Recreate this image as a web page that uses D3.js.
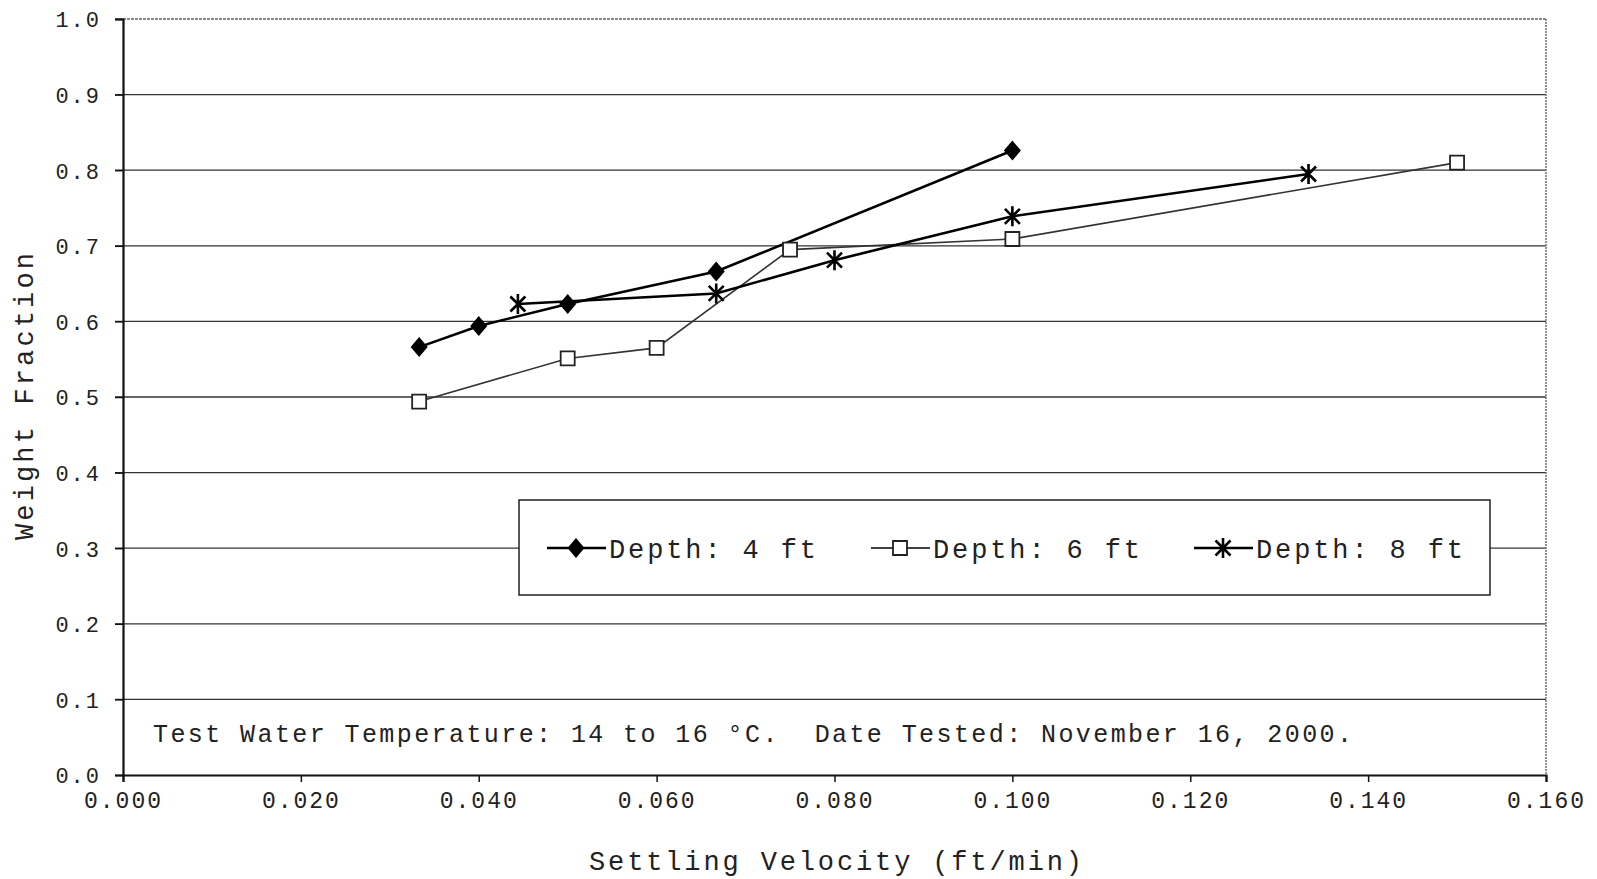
<!DOCTYPE html>
<html>
<head>
<meta charset="utf-8">
<script src="https://cdn.jsdelivr.net/npm/d3@7"></script>
<style>
  body { margin: 0; background: #fff; }
  text { font-family: "Liberation Mono", "DejaVu Sans Mono", monospace; fill: #222; }
</style>
</head>
<body>
<div id="chart"></div>
<script>
// series: settling velocity (ft/min) vs weight fraction
var seriesNames = ["Depth: 4 ft", "Depth: 6 ft", "Depth: 8 ft"];
var depth4X = [0.0333, 0.040, 0.050, 0.0667, 0.100];
var depth4Y = [0.566, 0.594, 0.623, 0.666, 0.826];
var depth6X = [0.0333, 0.050, 0.060, 0.075, 0.100, 0.150];
var depth6Y = [0.494, 0.551, 0.565, 0.695, 0.709, 0.810];
var depth8X = [0.0444, 0.0667, 0.080, 0.100, 0.1333];
var depth8Y = [0.623, 0.637, 0.681, 0.739, 0.795];

var xTicks = [0, 0.02, 0.04, 0.06, 0.08, 0.10, 0.12, 0.14, 0.16];
var yTicks = [0, 0.1, 0.2, 0.3, 0.4, 0.5, 0.6, 0.7, 0.8, 0.9, 1.0];
var xTitle = "Settling Velocity (ft/min)";
var yTitle = "Weight Fraction";
var note = "Test Water Temperature: 14 to 16 \u00B0C.  Date Tested: November 16, 2000.";

var width = 1597, height = 879;
var plotLeft = 123, plotRight = 1546, plotTop = 19, plotBottom = 775;

var svg = d3.select("#chart").append("svg")
    .attr("width", width)
    .attr("height", height);

var x = d3.scaleLinear().domain([0, 0.16]).range([plotLeft, plotRight]);
var y = d3.scaleLinear().domain([0, 1.0]).range([plotBottom, plotTop]);

//gridlines
svg.selectAll(".grid")
    .data(yTicks.filter(function(d) { return d > 0 && d < 1; }))
    .enter()
    .append("line")
    .attr("x1", plotLeft - 8)
    .attr("x2", plotRight)
    .attr("y1", function(d) { return y(d); })
    .attr("y2", function(d) { return y(d); })
    .attr("stroke", "#333")
    .attr("stroke-width", 1.3);

// top and right border (grey, a bit ragged in the scan)
svg.append("line")
    .attr("x1", plotLeft - 8).attr("x2", plotRight)
    .attr("y1", y(1)).attr("y2", y(1))
    .attr("stroke", "#666").attr("stroke-width", 1.6)
    .attr("stroke-dasharray", "3,1");
svg.append("line")
    .attr("x1", plotRight).attr("x2", plotRight)
    .attr("y1", y(1)).attr("y2", y(0))
    .attr("stroke", "#777").attr("stroke-width", 1.6)
    .attr("stroke-dasharray", "2,1");

// axes
var xAxis = d3.axisBottom(x).tickValues(xTicks).tickFormat(d3.format(".3f")).tickSize(7).tickPadding(10);
var yAxis = d3.axisLeft(y).tickValues(yTicks).tickFormat(d3.format(".1f")).tickSize(8).tickPadding(14);

var gx = svg.append("g").attr("transform", "translate(0," + plotBottom + ")").call(xAxis);
var gy = svg.append("g").attr("transform", "translate(" + plotLeft + ",0)").call(yAxis);

gx.select(".domain").attr("stroke", "#111").attr("stroke-width", 2.2);
gy.select(".domain").attr("stroke", "#111").attr("stroke-width", 2.2);
gx.selectAll(".tick line").attr("stroke", "#111").attr("stroke-width", 1.5);
gy.selectAll(".tick line").attr("stroke", "#111").attr("stroke-width", 1.5);
gx.selectAll(".tick text")
    .style("font-family", '"Liberation Mono", monospace')
    .style("font-size", "23px")
    .style("letter-spacing", "2px")
    .attr("fill", "#222");
gy.selectAll(".tick text")
    .style("font-family", '"Liberation Mono", monospace')
    .style("font-size", "22px")
    .style("letter-spacing", "2px")
    .attr("dy", "0.36em")
    .attr("fill", "#222");

// axis titles
svg.append("text")
    .attr("x", 589)
    .attr("y", 870)
    .attr("textLength", 493)
    .attr("lengthAdjust", "spacing")
    .style("font-size", "27px")
    .text(xTitle);

svg.append("text")
    .attr("transform", "translate(33,540) rotate(-90)")
    .attr("textLength", 287)
    .attr("lengthAdjust", "spacing")
    .style("font-size", "27px")
    .text(yTitle);

// note
svg.append("text")
    .attr("x", 153)
    .attr("y", 742)
    .attr("textLength", 1199)
    .attr("lengthAdjust", "spacing")
    .style("font-size", "25px")
    .style("white-space", "pre")
    .text(note);

// markers
function asterisk(s) {
    return "M0," + (-s) + "L0," + s +
        "M" + (-s * 0.75) + "," + (-s * 0.75) + "L" + (s * 0.75) + "," + (s * 0.75) +
        "M" + (-s * 0.75) + "," + (s * 0.75) + "L" + (s * 0.75) + "," + (-s * 0.75);
}
var diamond = "M0,-10L8.5,0L0,10L-8.5,0Z";
var square = "M-7,-7H7V7H-7Z";

function drawMarker(g, type) {
    if (type == 0) {
        g.append("path").attr("d", diamond).attr("fill", "#000");
    } else if (type == 1) {
        g.append("path").attr("d", square).attr("fill", "#fff")
            .attr("stroke", "#222").attr("stroke-width", 1.8);
    } else {
        g.append("path").attr("d", asterisk(10)).attr("fill", "none")
            .attr("stroke", "#000").attr("stroke-width", 2.6);
    }
}

var allSeries = [
    { xs: depth4X, ys: depth4Y, w: 2.6 },
    { xs: depth6X, ys: depth6Y, w: 1.6 },
    { xs: depth8X, ys: depth8Y, w: 2.6 }
];

var line = d3.line()
    .x(function(d) { return x(d[0]); })
    .y(function(d) { return y(d[1]); });

allSeries.forEach(function(s, i) {
    var pts = s.xs.map(function(v, j) { return [v, s.ys[j]]; });
    svg.append("path")
        .datum(pts)
        .attr("d", line)
        .attr("fill", "none")
        .attr("stroke", i == 1 ? "#333" : "#000")
        .attr("stroke-width", s.w);
});
allSeries.forEach(function(s, i) {
    s.xs.forEach(function(v, j) {
        var g = svg.append("g").attr("transform", "translate(" + x(v) + "," + y(s.ys[j]) + ")");
        drawMarker(g, i);
    });
});

// legend
var legend = svg.append("g");
legend.append("rect")
    .attr("x", 519).attr("y", 500)
    .attr("width", 971).attr("height", 95)
    .attr("fill", "#fff")
    .attr("stroke", "#222").attr("stroke-width", 1.5);

var legendX = [547, 871, 1194];
seriesNames.forEach(function(name, i) {
    var lx = legendX[i];
    var ly = 548;
    legend.append("line")
        .attr("x1", lx).attr("x2", lx + 59)
        .attr("y1", ly).attr("y2", ly)
        .attr("stroke", "#000")
        .attr("stroke-width", allSeries[i].w);
    var g = legend.append("g").attr("transform", "translate(" + (lx + 29) + "," + ly + ")");
    drawMarker(g, i);
    legend.append("text")
        .attr("x", lx + 62)
        .attr("y", ly + 10)
        .attr("textLength", 207)
        .attr("lengthAdjust", "spacing")
        .style("font-size", "27px")
        .text(name);
});
</script>
</body>
</html>
